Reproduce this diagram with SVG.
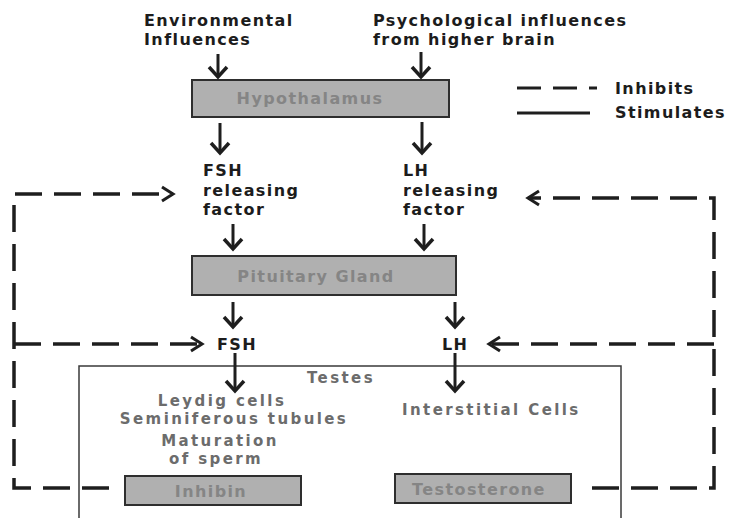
<svg xmlns="http://www.w3.org/2000/svg" width="735" height="518" viewBox="0 0 735 518">
  <defs>
    <style>
      text { font-family: "DejaVu Sans", "Liberation Sans", sans-serif; font-weight: bold; font-size: 16px; letter-spacing: 1.4px; }
      .lbl { fill: #1c1c1c; }
      .box { fill: #b0b0b0; stroke: #2e2e2e; stroke-width: 2; }
      .boxtxt { fill: #858585; }
      .inner { fill: #6c6c6c; font-size: 15px; letter-spacing: 2.4px; }
      .frame { fill: none; stroke: #3a3a3a; stroke-width: 1.5; }
      .stim { fill: none; stroke: #1e1e1e; stroke-width: 3; marker-end: url(#head); }
      .inh { fill: none; stroke: #1e1e1e; stroke-width: 3.5; stroke-dasharray: 27 12; }
      .inh.tip { marker-end: url(#headDash); }
      .key { fill: none; stroke: #1e1e1e; stroke-width: 3; }
    </style>
    <!-- open chevron heads; drawn solid even on dashed lines -->
    <marker id="head" markerUnits="userSpaceOnUse" markerWidth="24" markerHeight="24" refX="12" refY="11" orient="auto" overflow="visible">
      <path d="M 2,2 L 12,11 L 2,20" fill="none" stroke="#1e1e1e" stroke-width="3.5" stroke-dasharray="none"/>
    </marker>
    <marker id="headDash" markerUnits="userSpaceOnUse" markerWidth="24" markerHeight="24" refX="12" refY="7" orient="auto" overflow="visible">
      <path d="M 1,0 L 12,7 L 1,14" fill="none" stroke="#1e1e1e" stroke-width="3" stroke-dasharray="none"/>
    </marker>
  </defs>

  <rect width="735" height="518" fill="#ffffff"/>

  <!-- inputs -->
  <g id="environmental">
    <text class="lbl" x="144" y="26">Environmental</text>
    <text class="lbl" x="144" y="45">Influences</text>
  </g>
  <g id="psychological">
    <text class="lbl" x="373" y="26">Psychological influences</text>
    <text class="lbl" x="373" y="45">from higher brain</text>
  </g>

  <!-- key -->
  <g id="legend">
    <path class="key" d="M 517,88 H 541 M 553,88 H 577 M 589,88 H 597"/>
    <text class="lbl" x="615" y="94">Inhibits</text>
    <path class="key" d="M 517,113 H 590"/>
    <text class="lbl" x="615" y="118">Stimulates</text>
  </g>

  <g id="hypothalamus">
    <rect class="box" x="192" y="80" width="257" height="37"/>
    <text class="boxtxt" x="310" y="104" text-anchor="middle">Hypothalamus</text>
  </g>

  <g id="fsh-rf">
    <text class="lbl" x="203" y="176">FSH</text>
    <text class="lbl" x="203" y="195.5">releasing</text>
    <text class="lbl" x="203" y="215">factor</text>
  </g>
  <g id="lh-rf">
    <text class="lbl" x="403" y="176">LH</text>
    <text class="lbl" x="403" y="195.5">releasing</text>
    <text class="lbl" x="403" y="215">factor</text>
  </g>

  <g id="pituitary">
    <rect class="box" x="192" y="256" width="264" height="39"/>
    <text class="boxtxt" x="316" y="282" text-anchor="middle">Pituitary Gland</text>
  </g>

  <g id="fsh">
    <text class="lbl" x="217" y="350">FSH</text>
  </g>
  <g id="lh">
    <text class="lbl" x="442" y="350">LH</text>
  </g>

  <g id="testes">
    <rect class="frame" x="79" y="366" width="542" height="170"/>
    <text class="inner" x="341" y="383" text-anchor="middle">Testes</text>
  </g>
  <g id="seminiferous">
    <text class="inner" x="222" y="406" text-anchor="middle">Leydig cells</text>
    <text class="inner" x="234" y="424" text-anchor="middle">Seminiferous tubules</text>
  </g>
  <g id="maturation">
    <text class="inner" x="220" y="446" text-anchor="middle">Maturation</text>
    <text class="inner" x="216" y="464" text-anchor="middle">of sperm</text>
  </g>
  <g id="interstitial">
    <text class="inner" x="402" y="415">Interstitial Cells</text>
  </g>
  <g id="inhibin">
    <rect class="box" x="125" y="476" width="176" height="29"/>
    <text class="boxtxt" x="211" y="497" text-anchor="middle">Inhibin</text>
  </g>
  <g id="testosterone">
    <rect class="box" x="395" y="474" width="176" height="29"/>
    <text class="boxtxt" x="479" y="495" text-anchor="middle">Testosterone</text>
  </g>

  <g id="connectors">
    <!-- stimulating paths -->
    <path class="stim" d="M 218,54 V 77"/>
    <path class="stim" d="M 421,52 V 77"/>
    <path class="stim" d="M 220,123 V 153"/>
    <path class="stim" d="M 422,122 V 153"/>
    <path class="stim" d="M 233,224 V 249"/>
    <path class="stim" d="M 424,224 V 249"/>
    <path class="stim" d="M 233,302 V 327"/>
    <path class="stim" d="M 455,302 V 327"/>
    <path class="stim" d="M 235,353 V 391"/>
    <path class="stim" d="M 455,353 V 391"/>
    <!-- inhibin feedback -->
    <path class="inh tip" d="M 109,488 H 14 V 194 H 173"/>
    <path class="inh tip" d="M 14,344 H 202"/>
    <!-- testosterone feedback -->
    <path class="inh tip" d="M 592,488 H 714 V 198 H 528"/>
    <path class="inh tip" d="M 714,344 H 489"/>
  </g>
</svg>
